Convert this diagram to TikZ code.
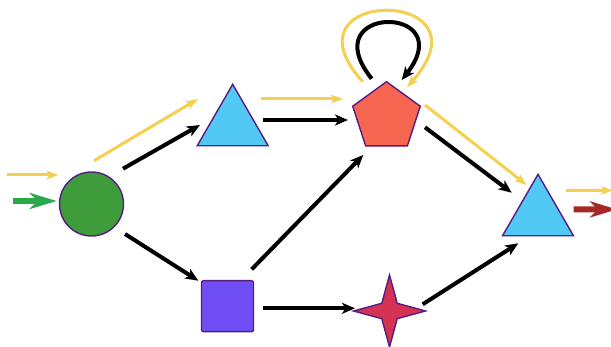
\documentclass[tikz,border=0pt]{standalone}
\usetikzlibrary{shapes.geometric,arrows.meta}
\definecolor{outl}{RGB}{88,28,128}
\definecolor{cgreen}{RGB}{62,157,58}
\definecolor{agreen}{RGB}{43,168,74}
\definecolor{cblue}{RGB}{82,200,245}
\definecolor{corange}{RGB}{246,102,80}
\definecolor{cviolet}{RGB}{112,78,245}
\definecolor{cstar}{RGB}{212,50,82}
\definecolor{ared}{RGB}{167,38,38}
\definecolor{cyellow}{RGB}{245,208,80}
\tikzset{
  shp/.style={draw=outl, line width=1.4pt, inner sep=0pt, outer sep=0pt},
  tri/.style={shp, regular polygon, regular polygon sides=3, minimum size=82pt, fill=cblue},
  blk/.style={line width=4pt, black, -{Stealth[length=13pt,width=11pt,inset=3.5pt]}},
  ylw/.style={line width=3pt, cyellow, -{Stealth[length=12pt,width=8.5pt,inset=3pt]}},
  bigarrow/.style={line width=6pt, -{Stealth[length=27pt,width=16pt,inset=8pt]}}
}
\begin{document}
\begin{tikzpicture}[x=1pt,y=-1pt]
\useasboundingbox (0,0) rectangle (611,347);
\clip (0,0) rectangle (611,347);
% nodes
\node[shp, circle, minimum size=64pt, fill=cgreen] (c) at (91.5,204) {};
\node[tri] (t1) at (232.7,125.3) {};
\node[shp, regular polygon, regular polygon sides=5, minimum size=71pt, fill=corange] (p) at (386.5,117.2) {};
\node[tri] (t2) at (538,215.3) {};
\node[shp, rectangle, minimum width=52pt, minimum height=51pt, rounded corners=2pt, fill=cviolet] (sq) at (227.5,306.2) {};
\node[shp, star, star points=4, star point ratio=3.3, minimum size=72pt, fill=cstar] (st) at (389.5,311) {};
% free ends
\coordinate (gs) at (13,201);
\coordinate (ys) at (7,175);
\coordinate (yo) at (613,190.4);
\coordinate (ro) at (617,209.4);
% input / output arrows
\draw[bigarrow, agreen] (gs) -- ([shift={(-34.8,-3)}]c.center);
\draw[ylw] (ys) -- ([shift={(-33,-29)}]c.center);
\draw[ylw] ([shift={(28,-24.9)}]t2.center) -- (yo);
\draw[bigarrow, ared] ([shift={(35.5,-5.9)}]t2.center) -- (ro);
% yellow highlighted path
\draw[ylw] ([shift={(2.5,-43.3)}]c.center) -- ([shift={(-34.7,-26.3)}]t1.center);
\draw[ylw] ([shift={(28,-26.3)}]t1.center) -- ([shift={(-43.5,-18.2)}]p.center);
\draw[ylw] ([shift={(38.5,-12.2)}]p.center) -- ([shift={(-11.3,-30.3)}]t2.center);
\draw[ylw] ([shift={(-23.8,-35.5)}]p.center) .. controls +(-86.3,-95.2) and +(88.6,-100.8) .. ([shift={(20.5,-29.9)}]p.center);
% black connectors
\draw[blk] ([shift={(31.5,-35.3)}]c.center) -- ([shift={(-32.7,-0.3)}]t1.center);
\draw[blk] ([shift={(30.3,-5.3)}]t1.center) -- ([shift={(-38.5,2.8)}]p.center);
\draw[blk] ([shift={(33.5,30)}]c.center) -- ([shift={(-29.2,-25.5)}]sq.center);
\draw[blk] ([shift={(24.2,-36.9)}]sq.center) -- ([shift={(-23.2,37.8)}]p.center);
\draw[blk] ([shift={(35.8,2.1)}]sq.center) -- ([shift={(-34.5,-2.7)}]st.center);
\draw[blk] ([shift={(33.2,-6.7)}]st.center) -- ([shift={(-19.7,28)}]t2.center);
\draw[blk] ([shift={(38.5,10.1)}]p.center) -- ([shift={(-26.3,-22.6)}]t2.center);
\draw[blk] ([shift={(-14.8,-38.5)}]p.center) .. controls +(-59.7,-74.7) and +(59.3,-76) .. ([shift={(15.2,-37.2)}]p.center);
\end{tikzpicture}
\end{document}
